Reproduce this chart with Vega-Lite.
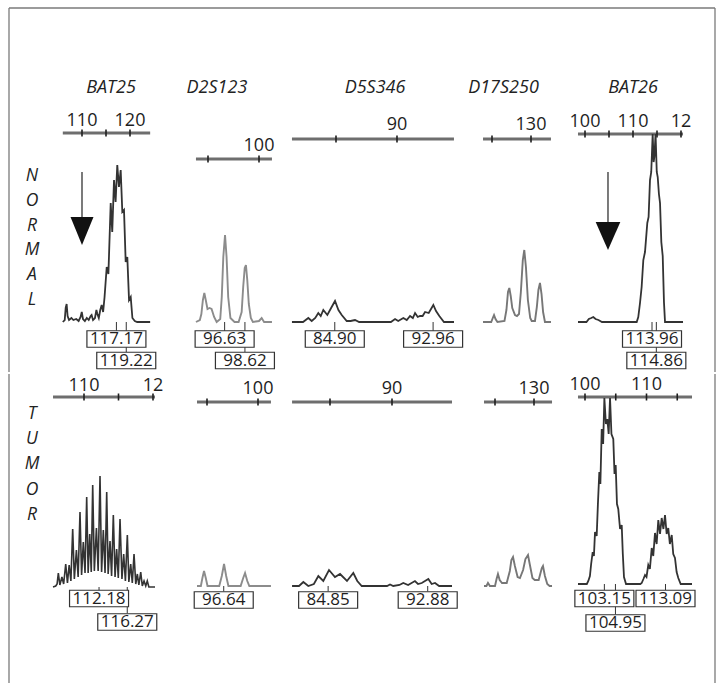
{
"$schema":"https://vega.github.io/schema/vega-lite/v6.json",
"background":"#ffffff",
"padding":{"left":8,"top":7,"right":0,"bottom":0},
"config":{"view":{"stroke":null},"axis":{"disable":true}},
"vconcat":[
{"hconcat":[
 {"width":41,"height":364,"layer":[
  {"data":{"values":[{}]},"mark":{"type":"rule","color":"#7a7a7a","strokeWidth":1.3},"encoding":{"x":{"datum":0,"scale":{"domain":[0,1]},"axis":null},"x2":{"datum":1},"y":{"datum":314,"scale":{"domain":[-50,314],"nice":false,"zero":false},"axis":null}}},
  {"data":{"values":[{}]},"mark":{"type":"rule","color":"#7a7a7a","strokeWidth":1.3},"encoding":{"x":{"datum":0,"scale":{"domain":[0,1]},"axis":null},"y":{"datum":314,"scale":{"domain":[-50,314],"nice":false,"zero":false},"axis":null},"y2":{"datum":-50}}},
  {"data":{"values":[{"sample":"Normal","label":"N\nO\nR\nM\nA\nL"}]},"mark":{"type":"text","font":"Open Sans","fontSize":17.5,"fontStyle":"italic","color":"#222222","align":"center","baseline":"middle","lineBreak":"\n","lineHeight":24.8},"encoding":{"x":{"datum":0.561,"scale":{"domain":[0,1]},"axis":null},"y":{"datum":146,"scale":{"domain":[-50,314],"nice":false,"zero":false},"axis":null},"text":{"field":"label"}}}
 ]},
 {"width":130,"height":364,"layer":[
  {"data":{"values":[{}]},"mark":{"type":"rule","color":"#7a7a7a","strokeWidth":1.3},"encoding":{"x":{"datum":103.333,"scale":{"domain":[103.333,130.417],"nice":false,"zero":false},"axis":null},"x2":{"datum":130.417},"y":{"datum":314,"scale":{"domain":[-50,314],"nice":false,"zero":false},"axis":null}}},
  {"data":{"values":[{"bp":106.0,"end":124.2}]},"mark":{"type":"rule","color":"#6e6e6e","strokeWidth":3},"encoding":{"x":{"field":"bp","type":"quantitative","scale":{"domain":[103.333,130.417],"nice":false,"zero":false},"axis":null},"x2":{"field":"end"},"y":{"datum":189,"scale":{"domain":[-50,314],"nice":false,"zero":false},"axis":null}}},
  {"data":{"values":[{"bp":110,"label":"110"},{"bp":115,"label":""},{"bp":120,"label":"120"}]},"layer":[
   {"mark":{"type":"rule","color":"#1e1e1e","strokeWidth":1.6},"encoding":{"x":{"field":"bp","type":"quantitative","scale":{"domain":[103.333,130.417],"nice":false,"zero":false},"axis":null},"y":{"datum":192.5,"scale":{"domain":[-50,314],"nice":false,"zero":false},"axis":null},"y2":{"datum":185.5}}},
   {"transform":[{"filter":"datum.label!=''"}],"mark":{"type":"text","font":"Open Sans","fontSize":18,"color":"#1e1e1e","align":"center","baseline":"middle"},"encoding":{"x":{"field":"bp","type":"quantitative","scale":{"domain":[103.333,130.417],"nice":false,"zero":false},"axis":null},"y":{"datum":201,"scale":{"domain":[-50,314],"nice":false,"zero":false},"axis":null},"text":{"field":"label"}}}
  ]},
  {"data":{"values":[{"marker":"BAT25"}]},"mark":{"type":"text","font":"Open Sans","fontSize":18,"fontStyle":"italic","color":"#222222","align":"center","baseline":"middle"},"encoding":{"x":{"datum":116.04,"scale":{"domain":[103.333,130.417],"nice":false,"zero":false},"axis":null},"y":{"datum":234,"scale":{"domain":[-50,314],"nice":false,"zero":false},"axis":null},"text":{"field":"marker"}}},
  {"data":{"values":[
{"bp":106.0,"signal":0},{"bp":106.4,"signal":2},{"bp":106.6,"signal":14},{"bp":106.8,"signal":18},{"bp":107.0,"signal":6},{"bp":107.3,"signal":2},{"bp":107.8,"signal":4},{"bp":108.2,"signal":2},{"bp":108.8,"signal":3},{"bp":109.3,"signal":1},{"bp":109.7,"signal":5},{"bp":109.95,"signal":10},{"bp":110.2,"signal":3},{"bp":110.6,"signal":1},{"bp":111.0,"signal":4},{"bp":111.4,"signal":2},{"bp":111.8,"signal":6},{"bp":112.0,"signal":7},{"bp":112.3,"signal":2},{"bp":112.7,"signal":4},{"bp":113.0,"signal":12},{"bp":113.2,"signal":8},{"bp":113.5,"signal":4},{"bp":113.8,"signal":12},{"bp":114.1,"signal":17},{"bp":114.4,"signal":10},{"bp":114.7,"signal":25},{"bp":115.15,"signal":55},{"bp":115.5,"signal":48},{"bp":115.98,"signal":119},{"bp":116.3,"signal":90},{"bp":116.67,"signal":142},{"bp":117.0,"signal":120},{"bp":117.35,"signal":157},{"bp":117.7,"signal":135},{"bp":118.06,"signal":152},{"bp":118.4,"signal":110},{"bp":118.75,"signal":112},{"bp":119.1,"signal":60},{"bp":119.44,"signal":65},{"bp":119.8,"signal":22},{"bp":120.15,"signal":25},{"bp":120.5,"signal":4},{"bp":121.0,"signal":1},{"bp":121.5,"signal":0},{"bp":124.2,"signal":0}]},
   "mark":{"type":"line","color":"#333333","strokeWidth":1.8},"encoding":{"x":{"field":"bp","type":"quantitative","scale":{"domain":[103.333,130.417],"nice":false,"zero":false},"axis":null},"y":{"field":"signal","type":"quantitative","scale":{"domain":[-50,314],"nice":false,"zero":false},"axis":null}}},
  {"data":{"values":[{"bp":110.0}]},"layer":[
   {"mark":{"type":"rule","color":"#222222","strokeWidth":1.2},"encoding":{"x":{"field":"bp","type":"quantitative","scale":{"domain":[103.333,130.417],"nice":false,"zero":false},"axis":null},"y":{"datum":150,"scale":{"domain":[-50,314],"nice":false,"zero":false},"axis":null},"y2":{"datum":105}}},
   {"mark":{"type":"point","shape":"M-0.82,-1L0.82,-1L0,1Z","size":784,"filled":true,"color":"#111111","opacity":1,"strokeWidth":0},"encoding":{"x":{"field":"bp","type":"quantitative","scale":{"domain":[103.333,130.417],"nice":false,"zero":false},"axis":null},"y":{"datum":91,"scale":{"domain":[-50,314],"nice":false,"zero":false},"axis":null}}}
  ]},
  {"data":{"values":[{"bp":117.17,"level":1},{"bp":119.22,"level":2}]},"layer":[
   {"transform":[{"filter":"datum.level==1"}],"mark":{"type":"rule","color":"#333333","strokeWidth":1},"encoding":{"x":{"field":"bp","type":"quantitative","scale":{"domain":[103.333,130.417],"nice":false,"zero":false},"axis":null},"y":{"datum":0,"scale":{"domain":[-50,314],"nice":false,"zero":false},"axis":null},"y2":{"datum":-9}}},
   {"transform":[{"filter":"datum.level==2"}],"mark":{"type":"rule","color":"#333333","strokeWidth":1},"encoding":{"x":{"field":"bp","type":"quantitative","scale":{"domain":[103.333,130.417],"nice":false,"zero":false},"axis":null},"y":{"datum":0,"scale":{"domain":[-50,314],"nice":false,"zero":false},"axis":null},"y2":{"datum":-30}}},
   {"transform":[{"filter":"datum.level==1"}],"mark":{"type":"point","shape":"M-1,-0.28H1V0.28H-1Z","size":3481,"filled":true,"fill":"#ffffff","stroke":"#333333","strokeWidth":1.2,"opacity":1},"encoding":{"x":{"field":"bp","type":"quantitative","scale":{"domain":[103.333,130.417],"nice":false,"zero":false},"axis":null},"y":{"datum":-17,"scale":{"domain":[-50,314],"nice":false,"zero":false},"axis":null}}},
   {"transform":[{"filter":"datum.level==1"}],"mark":{"type":"text","font":"Open Sans","fontSize":17,"color":"#1e1e1e","align":"center","baseline":"middle"},"encoding":{"x":{"field":"bp","type":"quantitative","scale":{"domain":[103.333,130.417],"nice":false,"zero":false},"axis":null},"y":{"datum":-17,"scale":{"domain":[-50,314],"nice":false,"zero":false},"axis":null},"text":{"field":"bp","type":"quantitative","format":".2f"}}},
   {"transform":[{"filter":"datum.level==2"}],"mark":{"type":"point","shape":"M-1,-0.28H1V0.28H-1Z","size":3481,"filled":true,"fill":"#ffffff","stroke":"#333333","strokeWidth":1.2,"opacity":1},"encoding":{"x":{"field":"bp","type":"quantitative","scale":{"domain":[103.333,130.417],"nice":false,"zero":false},"axis":null},"y":{"datum":-38.5,"scale":{"domain":[-50,314],"nice":false,"zero":false},"axis":null}}},
   {"transform":[{"filter":"datum.level==2"}],"mark":{"type":"text","font":"Open Sans","fontSize":17,"color":"#1e1e1e","align":"center","baseline":"middle"},"encoding":{"x":{"field":"bp","type":"quantitative","scale":{"domain":[103.333,130.417],"nice":false,"zero":false},"axis":null},"y":{"datum":-38.5,"scale":{"domain":[-50,314],"nice":false,"zero":false},"axis":null},"text":{"field":"bp","type":"quantitative","format":".2f"}}}
  ]}
 ]},
 {"width":105,"height":364,"layer":[
  {"data":{"values":[{}]},"mark":{"type":"rule","color":"#7a7a7a","strokeWidth":1.3},"encoding":{"x":{"datum":92.255,"scale":{"domain":[92.255,102.549],"nice":false,"zero":false},"axis":null},"x2":{"datum":102.549},"y":{"datum":314,"scale":{"domain":[-50,314],"nice":false,"zero":false},"axis":null}}},
  {"data":{"values":[{"bp":93.82,"end":101.27}]},"mark":{"type":"rule","color":"#6e6e6e","strokeWidth":3},"encoding":{"x":{"field":"bp","type":"quantitative","scale":{"domain":[92.255,102.549],"nice":false,"zero":false},"axis":null},"x2":{"field":"end"},"y":{"datum":163,"scale":{"domain":[-50,314],"nice":false,"zero":false},"axis":null}}},
  {"data":{"values":[{"bp":95,"label":""},{"bp":100,"label":"100"}]},"layer":[
   {"mark":{"type":"rule","color":"#1e1e1e","strokeWidth":1.6},"encoding":{"x":{"field":"bp","type":"quantitative","scale":{"domain":[92.255,102.549],"nice":false,"zero":false},"axis":null},"y":{"datum":166.5,"scale":{"domain":[-50,314],"nice":false,"zero":false},"axis":null},"y2":{"datum":159.5}}},
   {"transform":[{"filter":"datum.label!=''"}],"mark":{"type":"text","font":"Open Sans","fontSize":18,"color":"#1e1e1e","align":"center","baseline":"middle"},"encoding":{"x":{"field":"bp","type":"quantitative","scale":{"domain":[92.255,102.549],"nice":false,"zero":false},"axis":null},"y":{"datum":176.5,"scale":{"domain":[-50,314],"nice":false,"zero":false},"axis":null},"text":{"field":"label"}}}
  ]},
  {"data":{"values":[{"marker":"D2S123"}]},"mark":{"type":"text","font":"Open Sans","fontSize":18,"fontStyle":"italic","color":"#222222","align":"center","baseline":"middle"},"encoding":{"x":{"datum":95.88,"scale":{"domain":[92.255,102.549],"nice":false,"zero":false},"axis":null},"y":{"datum":234,"scale":{"domain":[-50,314],"nice":false,"zero":false},"axis":null},"text":{"field":"marker"}}},
  {"data":{"values":[
{"bp":93.82,"signal":0},{"bp":94.2,"signal":2},{"bp":94.35,"signal":8},{"bp":94.5,"signal":22},{"bp":94.64,"signal":29},{"bp":94.78,"signal":22},{"bp":94.95,"signal":13},{"bp":95.15,"signal":14},{"bp":95.35,"signal":13},{"bp":95.6,"signal":5},{"bp":95.85,"signal":0},{"bp":96.2,"signal":3},{"bp":96.35,"signal":25},{"bp":96.5,"signal":65},{"bp":96.67,"signal":87},{"bp":96.82,"signal":65},{"bp":96.98,"signal":25},{"bp":97.2,"signal":4},{"bp":97.6,"signal":0},{"bp":98.0,"signal":0},{"bp":98.3,"signal":10},{"bp":98.45,"signal":35},{"bp":98.6,"signal":54},{"bp":98.72,"signal":57},{"bp":98.85,"signal":42},{"bp":99.0,"signal":18},{"bp":99.2,"signal":4},{"bp":99.4,"signal":0},{"bp":100.0,"signal":1},{"bp":100.26,"signal":4},{"bp":100.5,"signal":0},{"bp":101.27,"signal":0}]},
   "mark":{"type":"line","color":"#8c8c8c","strokeWidth":1.9},"encoding":{"x":{"field":"bp","type":"quantitative","scale":{"domain":[92.255,102.549],"nice":false,"zero":false},"axis":null},"y":{"field":"signal","type":"quantitative","scale":{"domain":[-50,314],"nice":false,"zero":false},"axis":null}}},
  {"data":{"values":[{"bp":96.63,"level":1},{"bp":98.62,"level":2}]},"layer":[
   {"transform":[{"filter":"datum.level==1"}],"mark":{"type":"rule","color":"#333333","strokeWidth":1},"encoding":{"x":{"field":"bp","type":"quantitative","scale":{"domain":[92.255,102.549],"nice":false,"zero":false},"axis":null},"y":{"datum":0,"scale":{"domain":[-50,314],"nice":false,"zero":false},"axis":null},"y2":{"datum":-9}}},
   {"transform":[{"filter":"datum.level==2"}],"mark":{"type":"rule","color":"#333333","strokeWidth":1},"encoding":{"x":{"field":"bp","type":"quantitative","scale":{"domain":[92.255,102.549],"nice":false,"zero":false},"axis":null},"y":{"datum":0,"scale":{"domain":[-50,314],"nice":false,"zero":false},"axis":null},"y2":{"datum":-30}}},
   {"transform":[{"filter":"datum.level==1"}],"mark":{"type":"point","shape":"M-1,-0.28H1V0.28H-1Z","size":3481,"filled":true,"fill":"#ffffff","stroke":"#333333","strokeWidth":1.2,"opacity":1},"encoding":{"x":{"field":"bp","type":"quantitative","scale":{"domain":[92.255,102.549],"nice":false,"zero":false},"axis":null},"y":{"datum":-17,"scale":{"domain":[-50,314],"nice":false,"zero":false},"axis":null}}},
   {"transform":[{"filter":"datum.level==1"}],"mark":{"type":"text","font":"Open Sans","fontSize":17,"color":"#1e1e1e","align":"center","baseline":"middle"},"encoding":{"x":{"field":"bp","type":"quantitative","scale":{"domain":[92.255,102.549],"nice":false,"zero":false},"axis":null},"y":{"datum":-17,"scale":{"domain":[-50,314],"nice":false,"zero":false},"axis":null},"text":{"field":"bp","type":"quantitative","format":".2f"}}},
   {"transform":[{"filter":"datum.level==2"}],"mark":{"type":"point","shape":"M-1,-0.28H1V0.28H-1Z","size":3481,"filled":true,"fill":"#ffffff","stroke":"#333333","strokeWidth":1.2,"opacity":1},"encoding":{"x":{"field":"bp","type":"quantitative","scale":{"domain":[92.255,102.549],"nice":false,"zero":false},"axis":null},"y":{"datum":-38.5,"scale":{"domain":[-50,314],"nice":false,"zero":false},"axis":null}}},
   {"transform":[{"filter":"datum.level==2"}],"mark":{"type":"text","font":"Open Sans","fontSize":17,"color":"#1e1e1e","align":"center","baseline":"middle"},"encoding":{"x":{"field":"bp","type":"quantitative","scale":{"domain":[92.255,102.549],"nice":false,"zero":false},"axis":null},"y":{"datum":-38.5,"scale":{"domain":[-50,314],"nice":false,"zero":false},"axis":null},"text":{"field":"bp","type":"quantitative","format":".2f"}}}
  ]}
 ]},
 {"width":187,"height":364,"layer":[
  {"data":{"values":[{}]},"mark":{"type":"rule","color":"#7a7a7a","strokeWidth":1.3},"encoding":{"x":{"datum":80.82,"scale":{"domain":[80.82,96.148],"nice":false,"zero":false},"axis":null},"x2":{"datum":96.148},"y":{"datum":314,"scale":{"domain":[-50,314],"nice":false,"zero":false},"axis":null}}},
  {"data":{"values":[{"bp":81.39,"end":94.67}]},"mark":{"type":"rule","color":"#6e6e6e","strokeWidth":3},"encoding":{"x":{"field":"bp","type":"quantitative","scale":{"domain":[80.82,96.148],"nice":false,"zero":false},"axis":null},"x2":{"field":"end"},"y":{"datum":183,"scale":{"domain":[-50,314],"nice":false,"zero":false},"axis":null}}},
  {"data":{"values":[{"bp":85,"label":""},{"bp":90,"label":"90"}]},"layer":[
   {"mark":{"type":"rule","color":"#1e1e1e","strokeWidth":1.6},"encoding":{"x":{"field":"bp","type":"quantitative","scale":{"domain":[80.82,96.148],"nice":false,"zero":false},"axis":null},"y":{"datum":186.5,"scale":{"domain":[-50,314],"nice":false,"zero":false},"axis":null},"y2":{"datum":179.5}}},
   {"transform":[{"filter":"datum.label!=''"}],"mark":{"type":"text","font":"Open Sans","fontSize":18,"color":"#1e1e1e","align":"center","baseline":"middle"},"encoding":{"x":{"field":"bp","type":"quantitative","scale":{"domain":[80.82,96.148],"nice":false,"zero":false},"axis":null},"y":{"datum":197,"scale":{"domain":[-50,314],"nice":false,"zero":false},"axis":null},"text":{"field":"label"}}}
  ]},
  {"data":{"values":[{"marker":"D5S346"}]},"mark":{"type":"text","font":"Open Sans","fontSize":18,"fontStyle":"italic","color":"#222222","align":"center","baseline":"middle"},"encoding":{"x":{"datum":88.2,"scale":{"domain":[80.82,96.148],"nice":false,"zero":false},"axis":null},"y":{"datum":234,"scale":{"domain":[-50,314],"nice":false,"zero":false},"axis":null},"text":{"field":"marker"}}},
  {"data":{"values":[
{"bp":81.39,"signal":0},{"bp":82.3,"signal":0},{"bp":82.73,"signal":4},{"bp":83.01,"signal":1},{"bp":83.3,"signal":4},{"bp":83.55,"signal":9},{"bp":83.75,"signal":6},{"bp":83.96,"signal":12},{"bp":84.29,"signal":7},{"bp":84.6,"signal":14},{"bp":84.92,"signal":21},{"bp":85.2,"signal":12},{"bp":85.47,"signal":7},{"bp":85.88,"signal":1},{"bp":86.2,"signal":1},{"bp":86.56,"signal":2},{"bp":86.9,"signal":0},{"bp":89.5,"signal":0},{"bp":89.84,"signal":3},{"bp":90.1,"signal":1},{"bp":90.52,"signal":4},{"bp":90.8,"signal":2},{"bp":91.07,"signal":6},{"bp":91.3,"signal":4},{"bp":91.48,"signal":9},{"bp":91.7,"signal":5},{"bp":91.89,"signal":6},{"bp":92.1,"signal":6},{"bp":92.3,"signal":10},{"bp":92.6,"signal":9},{"bp":92.98,"signal":17},{"bp":93.2,"signal":11},{"bp":93.47,"signal":6},{"bp":93.85,"signal":0},{"bp":94.67,"signal":0}]},
   "mark":{"type":"line","color":"#333333","strokeWidth":1.8},"encoding":{"x":{"field":"bp","type":"quantitative","scale":{"domain":[80.82,96.148],"nice":false,"zero":false},"axis":null},"y":{"field":"signal","type":"quantitative","scale":{"domain":[-50,314],"nice":false,"zero":false},"axis":null}}},
  {"data":{"values":[{"bp":84.90,"level":1},{"bp":92.96,"level":1}]},"layer":[
   {"mark":{"type":"rule","color":"#333333","strokeWidth":1},"encoding":{"x":{"field":"bp","type":"quantitative","scale":{"domain":[80.82,96.148],"nice":false,"zero":false},"axis":null},"y":{"datum":0,"scale":{"domain":[-50,314],"nice":false,"zero":false},"axis":null},"y2":{"datum":-9}}},
   {"mark":{"type":"point","shape":"M-1,-0.28H1V0.28H-1Z","size":3481,"filled":true,"fill":"#ffffff","stroke":"#333333","strokeWidth":1.2,"opacity":1},"encoding":{"x":{"field":"bp","type":"quantitative","scale":{"domain":[80.82,96.148],"nice":false,"zero":false},"axis":null},"y":{"datum":-17,"scale":{"domain":[-50,314],"nice":false,"zero":false},"axis":null}}},
   {"mark":{"type":"text","font":"Open Sans","fontSize":17,"color":"#1e1e1e","align":"center","baseline":"middle"},"encoding":{"x":{"field":"bp","type":"quantitative","scale":{"domain":[80.82,96.148],"nice":false,"zero":false},"axis":null},"y":{"datum":-17,"scale":{"domain":[-50,314],"nice":false,"zero":false},"axis":null},"text":{"field":"bp","type":"quantitative","format":".2f"}}}
  ]}
 ]},
 {"width":94,"height":364,"layer":[
  {"data":{"values":[{}]},"mark":{"type":"rule","color":"#7a7a7a","strokeWidth":1.3},"encoding":{"x":{"datum":122.436,"scale":{"domain":[122.436,134.487],"nice":false,"zero":false},"axis":null},"x2":{"datum":134.487},"y":{"datum":314,"scale":{"domain":[-50,314],"nice":false,"zero":false},"axis":null}}},
  {"data":{"values":[{"bp":123.85,"end":132.56}]},"mark":{"type":"rule","color":"#6e6e6e","strokeWidth":3},"encoding":{"x":{"field":"bp","type":"quantitative","scale":{"domain":[122.436,134.487],"nice":false,"zero":false},"axis":null},"x2":{"field":"end"},"y":{"datum":183,"scale":{"domain":[-50,314],"nice":false,"zero":false},"axis":null}}},
  {"data":{"values":[{"bp":125,"label":""},{"bp":130,"label":"130"}]},"layer":[
   {"mark":{"type":"rule","color":"#1e1e1e","strokeWidth":1.6},"encoding":{"x":{"field":"bp","type":"quantitative","scale":{"domain":[122.436,134.487],"nice":false,"zero":false},"axis":null},"y":{"datum":186.5,"scale":{"domain":[-50,314],"nice":false,"zero":false},"axis":null},"y2":{"datum":179.5}}},
   {"transform":[{"filter":"datum.label!=''"}],"mark":{"type":"text","font":"Open Sans","fontSize":18,"color":"#1e1e1e","align":"center","baseline":"middle"},"encoding":{"x":{"field":"bp","type":"quantitative","scale":{"domain":[122.436,134.487],"nice":false,"zero":false},"axis":null},"y":{"datum":197,"scale":{"domain":[-50,314],"nice":false,"zero":false},"axis":null},"text":{"field":"label"}}}
  ]},
  {"data":{"values":[{"marker":"D17S250"}]},"mark":{"type":"text","font":"Open Sans","fontSize":18,"fontStyle":"italic","color":"#222222","align":"center","baseline":"middle"},"encoding":{"x":{"datum":126.47,"scale":{"domain":[122.436,134.487],"nice":false,"zero":false},"axis":null},"y":{"datum":234,"scale":{"domain":[-50,314],"nice":false,"zero":false},"axis":null},"text":{"field":"marker"}}},
  {"data":{"values":[
{"bp":123.85,"signal":0},{"bp":124.9,"signal":0},{"bp":125.1,"signal":4},{"bp":125.26,"signal":7},{"bp":125.45,"signal":3},{"bp":125.7,"signal":0},{"bp":126.6,"signal":1},{"bp":126.85,"signal":12},{"bp":127.05,"signal":30},{"bp":127.22,"signal":34},{"bp":127.4,"signal":26},{"bp":127.6,"signal":14},{"bp":127.95,"signal":7},{"bp":128.2,"signal":6},{"bp":128.46,"signal":8},{"bp":128.7,"signal":30},{"bp":128.95,"signal":62},{"bp":129.14,"signal":72},{"bp":129.35,"signal":55},{"bp":129.6,"signal":22},{"bp":129.9,"signal":4},{"bp":130.09,"signal":1},{"bp":130.51,"signal":1},{"bp":130.75,"signal":15},{"bp":130.95,"signal":32},{"bp":131.15,"signal":39},{"bp":131.35,"signal":28},{"bp":131.55,"signal":10},{"bp":131.79,"signal":0},{"bp":132.56,"signal":0}]},
   "mark":{"type":"line","color":"#777777","strokeWidth":1.9},"encoding":{"x":{"field":"bp","type":"quantitative","scale":{"domain":[122.436,134.487],"nice":false,"zero":false},"axis":null},"y":{"field":"signal","type":"quantitative","scale":{"domain":[-50,314],"nice":false,"zero":false},"axis":null}}}
 ]},
 {"width":149,"height":364,"layer":[
  {"data":{"values":[{}]},"mark":{"type":"rule","color":"#7a7a7a","strokeWidth":1.3},"encoding":{"x":{"datum":96.042,"scale":{"domain":[96.042,127.083],"nice":false,"zero":false},"axis":null},"x2":{"datum":127.083},"y":{"datum":314,"scale":{"domain":[-50,314],"nice":false,"zero":false},"axis":null}}},
  {"data":{"values":[{}]},"mark":{"type":"rule","color":"#7a7a7a","strokeWidth":1.3},"encoding":{"x":{"datum":127.083,"scale":{"domain":[96.042,127.083],"nice":false,"zero":false},"axis":null},"y":{"datum":314,"scale":{"domain":[-50,314],"nice":false,"zero":false},"axis":null},"y2":{"datum":-50}}},
  {"data":{"values":[{"bp":98.54,"end":120.42}]},"mark":{"type":"rule","color":"#6e6e6e","strokeWidth":3},"encoding":{"x":{"field":"bp","type":"quantitative","scale":{"domain":[96.042,127.083],"nice":false,"zero":false},"axis":null},"x2":{"field":"end"},"y":{"datum":188,"scale":{"domain":[-50,314],"nice":false,"zero":false},"axis":null}}},
  {"data":{"values":[{"bp":100,"label":"100"},{"bp":105,"label":""},{"bp":110,"label":"110"},{"bp":115,"label":""},{"bp":120,"label":"12"}]},"layer":[
   {"mark":{"type":"rule","color":"#1e1e1e","strokeWidth":1.6},"encoding":{"x":{"field":"bp","type":"quantitative","scale":{"domain":[96.042,127.083],"nice":false,"zero":false},"axis":null},"y":{"datum":191.5,"scale":{"domain":[-50,314],"nice":false,"zero":false},"axis":null},"y2":{"datum":184.5}}},
   {"transform":[{"filter":"datum.label!=''"}],"mark":{"type":"text","font":"Open Sans","fontSize":18,"color":"#1e1e1e","align":"center","baseline":"middle"},"encoding":{"x":{"field":"bp","type":"quantitative","scale":{"domain":[96.042,127.083],"nice":false,"zero":false},"axis":null},"y":{"datum":200.5,"scale":{"domain":[-50,314],"nice":false,"zero":false},"axis":null},"text":{"field":"label"}}}
  ]},
  {"data":{"values":[{"marker":"BAT26"}]},"mark":{"type":"text","font":"Open Sans","fontSize":18,"fontStyle":"italic","color":"#222222","align":"center","baseline":"middle"},"encoding":{"x":{"datum":110,"scale":{"domain":[96.042,127.083],"nice":false,"zero":false},"axis":null},"y":{"datum":234,"scale":{"domain":[-50,314],"nice":false,"zero":false},"axis":null},"text":{"field":"marker"}}},
  {"data":{"values":[
{"bp":98.54,"signal":0},{"bp":100.3,"signal":0},{"bp":100.8,"signal":3},{"bp":101.3,"signal":4},{"bp":101.73,"signal":5},{"bp":102.2,"signal":3},{"bp":102.8,"signal":2},{"bp":103.54,"signal":0},{"bp":110.77,"signal":0},{"bp":111.1,"signal":5},{"bp":111.46,"signal":19},{"bp":111.8,"signal":35},{"bp":112.15,"signal":62},{"bp":112.5,"signal":70},{"bp":112.98,"signal":99},{"bp":113.25,"signal":105},{"bp":113.54,"signal":142},{"bp":113.8,"signal":150},{"bp":114.1,"signal":188},{"bp":114.3,"signal":160},{"bp":114.45,"signal":165},{"bp":114.7,"signal":188},{"bp":114.95,"signal":150},{"bp":115.15,"signal":145},{"bp":115.4,"signal":128},{"bp":115.63,"signal":119},{"bp":115.9,"signal":80},{"bp":116.19,"signal":66},{"bp":116.45,"signal":20},{"bp":116.67,"signal":0},{"bp":120.42,"signal":0}]},
   "mark":{"type":"line","color":"#333333","strokeWidth":1.8},"encoding":{"x":{"field":"bp","type":"quantitative","scale":{"domain":[96.042,127.083],"nice":false,"zero":false},"axis":null},"y":{"field":"signal","type":"quantitative","scale":{"domain":[-50,314],"nice":false,"zero":false},"axis":null}}},
  {"data":{"values":[{"bp":104.79}]},"layer":[
   {"mark":{"type":"rule","color":"#222222","strokeWidth":1.2},"encoding":{"x":{"field":"bp","type":"quantitative","scale":{"domain":[96.042,127.083],"nice":false,"zero":false},"axis":null},"y":{"datum":150,"scale":{"domain":[-50,314],"nice":false,"zero":false},"axis":null},"y2":{"datum":100}}},
   {"mark":{"type":"point","shape":"M-0.88,-1L0.88,-1L0,1Z","size":784,"filled":true,"color":"#111111","opacity":1,"strokeWidth":0},"encoding":{"x":{"field":"bp","type":"quantitative","scale":{"domain":[96.042,127.083],"nice":false,"zero":false},"axis":null},"y":{"datum":86,"scale":{"domain":[-50,314],"nice":false,"zero":false},"axis":null}}}
  ]},
  {"data":{"values":[{"bp":113.96,"level":1},{"bp":114.86,"level":2}]},"layer":[
   {"transform":[{"filter":"datum.level==1"}],"mark":{"type":"rule","color":"#333333","strokeWidth":1},"encoding":{"x":{"field":"bp","type":"quantitative","scale":{"domain":[96.042,127.083],"nice":false,"zero":false},"axis":null},"y":{"datum":0,"scale":{"domain":[-50,314],"nice":false,"zero":false},"axis":null},"y2":{"datum":-9}}},
   {"transform":[{"filter":"datum.level==2"}],"mark":{"type":"rule","color":"#333333","strokeWidth":1},"encoding":{"x":{"field":"bp","type":"quantitative","scale":{"domain":[96.042,127.083],"nice":false,"zero":false},"axis":null},"y":{"datum":0,"scale":{"domain":[-50,314],"nice":false,"zero":false},"axis":null},"y2":{"datum":-30}}},
   {"transform":[{"filter":"datum.level==1"}],"mark":{"type":"point","shape":"M-1,-0.28H1V0.28H-1Z","size":3481,"filled":true,"fill":"#ffffff","stroke":"#333333","strokeWidth":1.2,"opacity":1},"encoding":{"x":{"field":"bp","type":"quantitative","scale":{"domain":[96.042,127.083],"nice":false,"zero":false},"axis":null},"y":{"datum":-17,"scale":{"domain":[-50,314],"nice":false,"zero":false},"axis":null}}},
   {"transform":[{"filter":"datum.level==1"}],"mark":{"type":"text","font":"Open Sans","fontSize":17,"color":"#1e1e1e","align":"center","baseline":"middle"},"encoding":{"x":{"field":"bp","type":"quantitative","scale":{"domain":[96.042,127.083],"nice":false,"zero":false},"axis":null},"y":{"datum":-17,"scale":{"domain":[-50,314],"nice":false,"zero":false},"axis":null},"text":{"field":"bp","type":"quantitative","format":".2f"}}},
   {"transform":[{"filter":"datum.level==2"}],"mark":{"type":"point","shape":"M-1,-0.28H1V0.28H-1Z","size":3481,"filled":true,"fill":"#ffffff","stroke":"#333333","strokeWidth":1.2,"opacity":1},"encoding":{"x":{"field":"bp","type":"quantitative","scale":{"domain":[96.042,127.083],"nice":false,"zero":false},"axis":null},"y":{"datum":-38.5,"scale":{"domain":[-50,314],"nice":false,"zero":false},"axis":null}}},
   {"transform":[{"filter":"datum.level==2"}],"mark":{"type":"text","font":"Open Sans","fontSize":17,"color":"#1e1e1e","align":"center","baseline":"middle"},"encoding":{"x":{"field":"bp","type":"quantitative","scale":{"domain":[96.042,127.083],"nice":false,"zero":false},"axis":null},"y":{"datum":-38.5,"scale":{"domain":[-50,314],"nice":false,"zero":false},"axis":null},"text":{"field":"bp","type":"quantitative","format":".2f"}}}
  ]}
 ]}
],"spacing":0,"bounds":"flush"},
{"hconcat":[
 {"width":41,"height":311,"layer":[
  {"data":{"values":[{}]},"mark":{"type":"rule","color":"#7a7a7a","strokeWidth":1.3},"encoding":{"x":{"datum":0,"scale":{"domain":[0,1]},"axis":null},"y":{"datum":212,"scale":{"domain":[-99,212],"nice":false,"zero":false},"axis":null},"y2":{"datum":-99}}},
  {"data":{"values":[{"sample":"Tumor","label":"T\nU\nM\nO\nR"}]},"mark":{"type":"text","font":"Open Sans","fontSize":17.5,"fontStyle":"italic","color":"#222222","align":"center","baseline":"middle","lineBreak":"\n","lineHeight":25.2},"encoding":{"x":{"datum":0.561,"scale":{"domain":[0,1]},"axis":null},"y":{"datum":172,"scale":{"domain":[-99,212],"nice":false,"zero":false},"axis":null},"text":{"field":"label"}}}
 ]},
 {"width":130,"height":311,"layer":[
  {"data":{"values":[{"bp":105.51,"end":120.29}]},"mark":{"type":"rule","color":"#6e6e6e","strokeWidth":3},"encoding":{"x":{"field":"bp","type":"quantitative","scale":{"domain":[105.072,123.913],"nice":false,"zero":false},"axis":null},"x2":{"field":"end"},"y":{"datum":190,"scale":{"domain":[-98,213],"nice":false,"zero":false},"axis":null}}},
  {"data":{"values":[{"bp":110,"label":"110"},{"bp":115,"label":""},{"bp":120,"label":"12"}]},"layer":[
   {"mark":{"type":"rule","color":"#1e1e1e","strokeWidth":1.6},"encoding":{"x":{"field":"bp","type":"quantitative","scale":{"domain":[105.072,123.913],"nice":false,"zero":false},"axis":null},"y":{"datum":193.5,"scale":{"domain":[-98,213],"nice":false,"zero":false},"axis":null},"y2":{"datum":186.5}}},
   {"transform":[{"filter":"datum.label!=''"}],"mark":{"type":"text","font":"Open Sans","fontSize":18,"color":"#1e1e1e","align":"center","baseline":"middle"},"encoding":{"x":{"field":"bp","type":"quantitative","scale":{"domain":[105.072,123.913],"nice":false,"zero":false},"axis":null},"y":{"datum":201,"scale":{"domain":[-98,213],"nice":false,"zero":false},"axis":null},"text":{"field":"label"}}}
  ]},
  {"data":{"values":[
{"bp":105.51,"signal":0},{"bp":105.9,"signal":1},{"bp":106.1,"signal":3},{"bp":106.28,"signal":14},{"bp":106.5,"signal":2},{"bp":106.8,"signal":10},{"bp":107.05,"signal":3},{"bp":107.35,"signal":23},{"bp":107.6,"signal":4},{"bp":107.85,"signal":22},{"bp":108.1,"signal":6},{"bp":108.36,"signal":58},{"bp":108.6,"signal":8},{"bp":108.9,"signal":37},{"bp":109.15,"signal":10},{"bp":109.42,"signal":75},{"bp":109.65,"signal":12},{"bp":109.9,"signal":45},{"bp":110.15,"signal":14},{"bp":110.39,"signal":90},{"bp":110.6,"signal":14},{"bp":110.83,"signal":53},{"bp":111.05,"signal":15},{"bp":111.26,"signal":102},{"bp":111.5,"signal":16},{"bp":111.8,"signal":59},{"bp":112.05,"signal":16},{"bp":112.32,"signal":111},{"bp":112.55,"signal":15},{"bp":112.8,"signal":57},{"bp":113.05,"signal":14},{"bp":113.29,"signal":95},{"bp":113.5,"signal":13},{"bp":113.77,"signal":46},{"bp":114.0,"signal":11},{"bp":114.25,"signal":72},{"bp":114.5,"signal":10},{"bp":114.73,"signal":38},{"bp":114.97,"signal":9},{"bp":115.22,"signal":68},{"bp":115.5,"signal":8},{"bp":115.75,"signal":33},{"bp":116.0,"signal":6},{"bp":116.28,"signal":52},{"bp":116.5,"signal":5},{"bp":116.77,"signal":23},{"bp":117.0,"signal":4},{"bp":117.25,"signal":33},{"bp":117.5,"signal":3},{"bp":117.73,"signal":13},{"bp":117.95,"signal":2},{"bp":118.22,"signal":15},{"bp":118.45,"signal":1},{"bp":118.7,"signal":6},{"bp":118.95,"signal":1},{"bp":119.17,"signal":6},{"bp":119.4,"signal":0},{"bp":120.29,"signal":0}]},
   "mark":{"type":"line","color":"#333333","strokeWidth":1.6},"encoding":{"x":{"field":"bp","type":"quantitative","scale":{"domain":[105.072,123.913],"nice":false,"zero":false},"axis":null},"y":{"field":"signal","type":"quantitative","scale":{"domain":[-98,213],"nice":false,"zero":false},"axis":null}}},
  {"data":{"values":[{"bp":112.18,"level":1},{"bp":116.27,"level":2}]},"layer":[
   {"transform":[{"filter":"datum.level==1"}],"mark":{"type":"rule","color":"#333333","strokeWidth":1},"encoding":{"x":{"field":"bp","type":"quantitative","scale":{"domain":[105.072,123.913],"nice":false,"zero":false},"axis":null},"y":{"datum":0,"scale":{"domain":[-98,213],"nice":false,"zero":false},"axis":null},"y2":{"datum":-3.5}}},
   {"transform":[{"filter":"datum.level==2"}],"mark":{"type":"rule","color":"#333333","strokeWidth":1},"encoding":{"x":{"field":"bp","type":"quantitative","scale":{"domain":[105.072,123.913],"nice":false,"zero":false},"axis":null},"y":{"datum":0,"scale":{"domain":[-98,213],"nice":false,"zero":false},"axis":null},"y2":{"datum":-26.5}}},
   {"transform":[{"filter":"datum.level==1"}],"mark":{"type":"point","shape":"M-1,-0.28H1V0.28H-1Z","size":3481,"filled":true,"fill":"#ffffff","stroke":"#333333","strokeWidth":1.2,"opacity":1},"encoding":{"x":{"field":"bp","type":"quantitative","scale":{"domain":[105.072,123.913],"nice":false,"zero":false},"axis":null},"y":{"datum":-11.5,"scale":{"domain":[-98,213],"nice":false,"zero":false},"axis":null}}},
   {"transform":[{"filter":"datum.level==1"}],"mark":{"type":"text","font":"Open Sans","fontSize":17,"color":"#1e1e1e","align":"center","baseline":"middle"},"encoding":{"x":{"field":"bp","type":"quantitative","scale":{"domain":[105.072,123.913],"nice":false,"zero":false},"axis":null},"y":{"datum":-11.5,"scale":{"domain":[-98,213],"nice":false,"zero":false},"axis":null},"text":{"field":"bp","type":"quantitative","format":".2f"}}},
   {"transform":[{"filter":"datum.level==2"}],"mark":{"type":"point","shape":"M-1,-0.28H1V0.28H-1Z","size":3481,"filled":true,"fill":"#ffffff","stroke":"#333333","strokeWidth":1.2,"opacity":1},"encoding":{"x":{"field":"bp","type":"quantitative","scale":{"domain":[105.072,123.913],"nice":false,"zero":false},"axis":null},"y":{"datum":-35,"scale":{"domain":[-98,213],"nice":false,"zero":false},"axis":null}}},
   {"transform":[{"filter":"datum.level==2"}],"mark":{"type":"text","font":"Open Sans","fontSize":17,"color":"#1e1e1e","align":"center","baseline":"middle"},"encoding":{"x":{"field":"bp","type":"quantitative","scale":{"domain":[105.072,123.913],"nice":false,"zero":false},"axis":null},"y":{"datum":-35,"scale":{"domain":[-98,213],"nice":false,"zero":false},"axis":null},"text":{"field":"bp","type":"quantitative","format":".2f"}}}
  ]}
 ]},
 {"width":105,"height":311,"layer":[
  {"data":{"values":[{"bp":94.02,"end":101.27}]},"mark":{"type":"rule","color":"#6e6e6e","strokeWidth":3},"encoding":{"x":{"field":"bp","type":"quantitative","scale":{"domain":[92.353,102.647],"nice":false,"zero":false},"axis":null},"x2":{"field":"end"},"y":{"datum":184,"scale":{"domain":[-99,212],"nice":false,"zero":false},"axis":null}}},
  {"data":{"values":[{"bp":95,"label":""},{"bp":100,"label":"100"}]},"layer":[
   {"mark":{"type":"rule","color":"#1e1e1e","strokeWidth":1.6},"encoding":{"x":{"field":"bp","type":"quantitative","scale":{"domain":[92.353,102.647],"nice":false,"zero":false},"axis":null},"y":{"datum":187.5,"scale":{"domain":[-99,212],"nice":false,"zero":false},"axis":null},"y2":{"datum":180.5}}},
   {"transform":[{"filter":"datum.label!=''"}],"mark":{"type":"text","font":"Open Sans","fontSize":18,"color":"#1e1e1e","align":"center","baseline":"middle"},"encoding":{"x":{"field":"bp","type":"quantitative","scale":{"domain":[92.353,102.647],"nice":false,"zero":false},"axis":null},"y":{"datum":197,"scale":{"domain":[-99,212],"nice":false,"zero":false},"axis":null},"text":{"field":"label"}}}
  ]},
  {"data":{"values":[
{"bp":94.02,"signal":0},{"bp":94.4,"signal":0},{"bp":94.55,"signal":8},{"bp":94.71,"signal":15},{"bp":94.88,"signal":8},{"bp":95.05,"signal":0},{"bp":96.2,"signal":0},{"bp":96.45,"signal":10},{"bp":96.67,"signal":22},{"bp":96.88,"signal":10},{"bp":97.1,"signal":0},{"bp":98.3,"signal":0},{"bp":98.55,"signal":8},{"bp":98.73,"signal":13},{"bp":98.95,"signal":5},{"bp":99.15,"signal":0},{"bp":101.27,"signal":0}]},
   "mark":{"type":"line","color":"#8c8c8c","strokeWidth":1.9},"encoding":{"x":{"field":"bp","type":"quantitative","scale":{"domain":[92.353,102.647],"nice":false,"zero":false},"axis":null},"y":{"field":"signal","type":"quantitative","scale":{"domain":[-99,212],"nice":false,"zero":false},"axis":null}}},
  {"data":{"values":[{"bp":96.64,"level":1}]},"layer":[
   {"mark":{"type":"rule","color":"#333333","strokeWidth":1},"encoding":{"x":{"field":"bp","type":"quantitative","scale":{"domain":[92.353,102.647],"nice":false,"zero":false},"axis":null},"y":{"datum":0,"scale":{"domain":[-99,212],"nice":false,"zero":false},"axis":null},"y2":{"datum":-5.5}}},
   {"mark":{"type":"point","shape":"M-1,-0.28H1V0.28H-1Z","size":3481,"filled":true,"fill":"#ffffff","stroke":"#333333","strokeWidth":1.2,"opacity":1},"encoding":{"x":{"field":"bp","type":"quantitative","scale":{"domain":[92.353,102.647],"nice":false,"zero":false},"axis":null},"y":{"datum":-14,"scale":{"domain":[-99,212],"nice":false,"zero":false},"axis":null}}},
   {"mark":{"type":"text","font":"Open Sans","fontSize":17,"color":"#1e1e1e","align":"center","baseline":"middle"},"encoding":{"x":{"field":"bp","type":"quantitative","scale":{"domain":[92.353,102.647],"nice":false,"zero":false},"axis":null},"y":{"datum":-14,"scale":{"domain":[-99,212],"nice":false,"zero":false},"axis":null},"text":{"field":"bp","type":"quantitative","format":".2f"}}}
  ]}
 ]},
 {"width":187,"height":311,"layer":[
  {"data":{"values":[{"bp":81.94,"end":94.84}]},"mark":{"type":"rule","color":"#6e6e6e","strokeWidth":3},"encoding":{"x":{"field":"bp","type":"quantitative","scale":{"domain":[81.371,96.452],"nice":false,"zero":false},"axis":null},"x2":{"field":"end"},"y":{"datum":184,"scale":{"domain":[-99,212],"nice":false,"zero":false},"axis":null}}},
  {"data":{"values":[{"bp":85,"label":""},{"bp":90,"label":"90"}]},"layer":[
   {"mark":{"type":"rule","color":"#1e1e1e","strokeWidth":1.6},"encoding":{"x":{"field":"bp","type":"quantitative","scale":{"domain":[81.371,96.452],"nice":false,"zero":false},"axis":null},"y":{"datum":187.5,"scale":{"domain":[-99,212],"nice":false,"zero":false},"axis":null},"y2":{"datum":180.5}}},
   {"transform":[{"filter":"datum.label!=''"}],"mark":{"type":"text","font":"Open Sans","fontSize":18,"color":"#1e1e1e","align":"center","baseline":"middle"},"encoding":{"x":{"field":"bp","type":"quantitative","scale":{"domain":[81.371,96.452],"nice":false,"zero":false},"axis":null},"y":{"datum":197,"scale":{"domain":[-99,212],"nice":false,"zero":false},"axis":null},"text":{"field":"label"}}}
  ]},
  {"data":{"values":[
{"bp":81.94,"signal":0},{"bp":82.5,"signal":0},{"bp":82.85,"signal":4},{"bp":83.25,"signal":0},{"bp":83.7,"signal":2},{"bp":84.06,"signal":10},{"bp":84.46,"signal":5},{"bp":84.92,"signal":16},{"bp":85.4,"signal":9},{"bp":85.81,"signal":12},{"bp":86.37,"signal":5},{"bp":86.88,"signal":13},{"bp":87.2,"signal":5},{"bp":87.56,"signal":0},{"bp":89.6,"signal":0},{"bp":89.84,"signal":1.5},{"bp":90.1,"signal":0},{"bp":90.6,"signal":1},{"bp":90.91,"signal":3},{"bp":91.3,"signal":1},{"bp":91.85,"signal":5},{"bp":92.1,"signal":2},{"bp":92.4,"signal":3},{"bp":92.93,"signal":7},{"bp":93.2,"signal":2},{"bp":93.47,"signal":3},{"bp":93.8,"signal":0},{"bp":94.84,"signal":0}]},
   "mark":{"type":"line","color":"#333333","strokeWidth":1.8},"encoding":{"x":{"field":"bp","type":"quantitative","scale":{"domain":[81.371,96.452],"nice":false,"zero":false},"axis":null},"y":{"field":"signal","type":"quantitative","scale":{"domain":[-99,212],"nice":false,"zero":false},"axis":null}}},
  {"data":{"values":[{"bp":84.85,"level":1},{"bp":92.88,"level":1}]},"layer":[
   {"mark":{"type":"rule","color":"#333333","strokeWidth":1},"encoding":{"x":{"field":"bp","type":"quantitative","scale":{"domain":[81.371,96.452],"nice":false,"zero":false},"axis":null},"y":{"datum":0,"scale":{"domain":[-99,212],"nice":false,"zero":false},"axis":null},"y2":{"datum":-5.5}}},
   {"mark":{"type":"point","shape":"M-1,-0.28H1V0.28H-1Z","size":3481,"filled":true,"fill":"#ffffff","stroke":"#333333","strokeWidth":1.2,"opacity":1},"encoding":{"x":{"field":"bp","type":"quantitative","scale":{"domain":[81.371,96.452],"nice":false,"zero":false},"axis":null},"y":{"datum":-14,"scale":{"domain":[-99,212],"nice":false,"zero":false},"axis":null}}},
   {"mark":{"type":"text","font":"Open Sans","fontSize":17,"color":"#1e1e1e","align":"center","baseline":"middle"},"encoding":{"x":{"field":"bp","type":"quantitative","scale":{"domain":[81.371,96.452],"nice":false,"zero":false},"axis":null},"y":{"datum":-14,"scale":{"domain":[-99,212],"nice":false,"zero":false},"axis":null},"text":{"field":"bp","type":"quantitative","format":".2f"}}}
  ]}
 ]},
 {"width":94,"height":311,"layer":[
  {"data":{"values":[{"bp":123.59,"end":132.31}]},"mark":{"type":"rule","color":"#6e6e6e","strokeWidth":3},"encoding":{"x":{"field":"bp","type":"quantitative","scale":{"domain":[122.051,134.102],"nice":false,"zero":false},"axis":null},"x2":{"field":"end"},"y":{"datum":184,"scale":{"domain":[-99,212],"nice":false,"zero":false},"axis":null}}},
  {"data":{"values":[{"bp":125,"label":""},{"bp":130,"label":"130"}]},"layer":[
   {"mark":{"type":"rule","color":"#1e1e1e","strokeWidth":1.6},"encoding":{"x":{"field":"bp","type":"quantitative","scale":{"domain":[122.051,134.102],"nice":false,"zero":false},"axis":null},"y":{"datum":187.5,"scale":{"domain":[-99,212],"nice":false,"zero":false},"axis":null},"y2":{"datum":180.5}}},
   {"transform":[{"filter":"datum.label!=''"}],"mark":{"type":"text","font":"Open Sans","fontSize":18,"color":"#1e1e1e","align":"center","baseline":"middle"},"encoding":{"x":{"field":"bp","type":"quantitative","scale":{"domain":[122.051,134.102],"nice":false,"zero":false},"axis":null},"y":{"datum":197,"scale":{"domain":[-99,212],"nice":false,"zero":false},"axis":null},"text":{"field":"label"}}}
  ]},
  {"data":{"values":[
{"bp":123.59,"signal":0},{"bp":123.9,"signal":0},{"bp":124.1,"signal":3},{"bp":124.35,"signal":0},{"bp":125.0,"signal":0},{"bp":125.2,"signal":7},{"bp":125.38,"signal":12},{"bp":125.6,"signal":6},{"bp":125.9,"signal":3},{"bp":126.5,"signal":3},{"bp":126.9,"signal":15},{"bp":127.1,"signal":26},{"bp":127.31,"signal":29},{"bp":127.55,"signal":20},{"bp":127.9,"signal":9},{"bp":128.2,"signal":8},{"bp":128.6,"signal":16},{"bp":128.9,"signal":27},{"bp":129.23,"signal":31},{"bp":129.45,"signal":22},{"bp":129.8,"signal":8},{"bp":130.1,"signal":6},{"bp":130.6,"signal":6},{"bp":130.8,"signal":12},{"bp":131.0,"signal":18},{"bp":131.15,"signal":20},{"bp":131.4,"signal":10},{"bp":131.7,"signal":2},{"bp":132.0,"signal":0},{"bp":132.31,"signal":0}]},
   "mark":{"type":"line","color":"#777777","strokeWidth":1.9},"encoding":{"x":{"field":"bp","type":"quantitative","scale":{"domain":[122.051,134.102],"nice":false,"zero":false},"axis":null},"y":{"field":"signal","type":"quantitative","scale":{"domain":[-99,212],"nice":false,"zero":false},"axis":null}}}
 ]},
 {"width":149,"height":311,"layer":[
  {"data":{"values":[{}]},"mark":{"type":"rule","color":"#7a7a7a","strokeWidth":1.3},"encoding":{"x":{"datum":121.139,"scale":{"domain":[96.911,121.139],"nice":false,"zero":false},"axis":null},"y":{"datum":210,"scale":{"domain":[-101,210],"nice":false,"zero":false},"axis":null},"y2":{"datum":-101}}},
  {"data":{"values":[{"bp":98.86,"end":117.4}]},"mark":{"type":"rule","color":"#6e6e6e","strokeWidth":3},"encoding":{"x":{"field":"bp","type":"quantitative","scale":{"domain":[96.911,121.139],"nice":false,"zero":false},"axis":null},"x2":{"field":"end"},"y":{"datum":187,"scale":{"domain":[-101,210],"nice":false,"zero":false},"axis":null}}},
  {"data":{"values":[{"bp":100,"label":"100"},{"bp":105,"label":""},{"bp":110,"label":"110"},{"bp":115,"label":""}]},"layer":[
   {"mark":{"type":"rule","color":"#1e1e1e","strokeWidth":1.6},"encoding":{"x":{"field":"bp","type":"quantitative","scale":{"domain":[96.911,121.139],"nice":false,"zero":false},"axis":null},"y":{"datum":190.5,"scale":{"domain":[-101,210],"nice":false,"zero":false},"axis":null},"y2":{"datum":183.5}}},
   {"transform":[{"filter":"datum.label!=''"}],"mark":{"type":"text","font":"Open Sans","fontSize":18,"color":"#1e1e1e","align":"center","baseline":"middle"},"encoding":{"x":{"field":"bp","type":"quantitative","scale":{"domain":[96.911,121.139],"nice":false,"zero":false},"axis":null},"y":{"datum":198.7,"scale":{"domain":[-101,210],"nice":false,"zero":false},"axis":null},"text":{"field":"label"}}}
  ]},
  {"data":{"values":[
{"bp":98.86,"signal":0},{"bp":100.3,"signal":0},{"bp":100.54,"signal":3},{"bp":100.8,"signal":8},{"bp":101.0,"signal":20},{"bp":101.25,"signal":32},{"bp":101.45,"signal":28},{"bp":101.63,"signal":52},{"bp":101.9,"signal":48},{"bp":102.1,"signal":80},{"bp":102.33,"signal":112},{"bp":102.5,"signal":100},{"bp":102.72,"signal":155},{"bp":102.95,"signal":140},{"bp":103.15,"signal":186},{"bp":103.4,"signal":160},{"bp":103.63,"signal":165},{"bp":103.85,"signal":150},{"bp":104.07,"signal":186},{"bp":104.3,"signal":150},{"bp":104.6,"signal":145},{"bp":104.8,"signal":110},{"bp":104.99,"signal":119},{"bp":105.2,"signal":80},{"bp":105.41,"signal":75},{"bp":105.7,"signal":55},{"bp":105.97,"signal":59},{"bp":106.15,"signal":30},{"bp":106.34,"signal":7},{"bp":106.67,"signal":0},{"bp":109.0,"signal":0},{"bp":109.22,"signal":1},{"bp":109.5,"signal":5},{"bp":109.76,"signal":9},{"bp":110.0,"signal":7},{"bp":110.29,"signal":19},{"bp":110.55,"signal":15},{"bp":110.85,"signal":36},{"bp":111.1,"signal":28},{"bp":111.38,"signal":51},{"bp":111.65,"signal":40},{"bp":111.92,"signal":64},{"bp":112.2,"signal":50},{"bp":112.47,"signal":66},{"bp":112.75,"signal":55},{"bp":113.01,"signal":69},{"bp":113.28,"signal":50},{"bp":113.54,"signal":56},{"bp":113.8,"signal":40},{"bp":114.1,"signal":49},{"bp":114.35,"signal":30},{"bp":114.63,"signal":26},{"bp":114.9,"signal":12},{"bp":115.17,"signal":6},{"bp":115.56,"signal":0},{"bp":117.4,"signal":0}]},
   "mark":{"type":"line","color":"#333333","strokeWidth":1.8},"encoding":{"x":{"field":"bp","type":"quantitative","scale":{"domain":[96.911,121.139],"nice":false,"zero":false},"axis":null},"y":{"field":"signal","type":"quantitative","scale":{"domain":[-101,210],"nice":false,"zero":false},"axis":null}}},
  {"data":{"values":[{"bp":103.15,"level":1},{"bp":113.09,"level":1},{"bp":104.95,"level":2}]},"layer":[
   {"transform":[{"filter":"datum.level==1"}],"mark":{"type":"rule","color":"#333333","strokeWidth":1},"encoding":{"x":{"field":"bp","type":"quantitative","scale":{"domain":[96.911,121.139],"nice":false,"zero":false},"axis":null},"y":{"datum":0,"scale":{"domain":[-101,210],"nice":false,"zero":false},"axis":null},"y2":{"datum":-6}}},
   {"transform":[{"filter":"datum.level==2"}],"mark":{"type":"rule","color":"#333333","strokeWidth":1},"encoding":{"x":{"field":"bp","type":"quantitative","scale":{"domain":[96.911,121.139],"nice":false,"zero":false},"axis":null},"y":{"datum":0,"scale":{"domain":[-101,210],"nice":false,"zero":false},"axis":null},"y2":{"datum":-30.5}}},
   {"transform":[{"filter":"datum.level==1"}],"mark":{"type":"point","shape":"M-1,-0.28H1V0.28H-1Z","size":3481,"filled":true,"fill":"#ffffff","stroke":"#333333","strokeWidth":1.2,"opacity":1},"encoding":{"x":{"field":"bp","type":"quantitative","scale":{"domain":[96.911,121.139],"nice":false,"zero":false},"axis":null},"y":{"datum":-14.5,"scale":{"domain":[-101,210],"nice":false,"zero":false},"axis":null}}},
   {"transform":[{"filter":"datum.level==1"}],"mark":{"type":"text","font":"Open Sans","fontSize":17,"color":"#1e1e1e","align":"center","baseline":"middle"},"encoding":{"x":{"field":"bp","type":"quantitative","scale":{"domain":[96.911,121.139],"nice":false,"zero":false},"axis":null},"y":{"datum":-14.5,"scale":{"domain":[-101,210],"nice":false,"zero":false},"axis":null},"text":{"field":"bp","type":"quantitative","format":".2f"}}},
   {"transform":[{"filter":"datum.level==2"}],"mark":{"type":"point","shape":"M-1,-0.28H1V0.28H-1Z","size":3481,"filled":true,"fill":"#ffffff","stroke":"#333333","strokeWidth":1.2,"opacity":1},"encoding":{"x":{"field":"bp","type":"quantitative","scale":{"domain":[96.911,121.139],"nice":false,"zero":false},"axis":null},"y":{"datum":-39,"scale":{"domain":[-101,210],"nice":false,"zero":false},"axis":null}}},
   {"transform":[{"filter":"datum.level==2"}],"mark":{"type":"text","font":"Open Sans","fontSize":17,"color":"#1e1e1e","align":"center","baseline":"middle"},"encoding":{"x":{"field":"bp","type":"quantitative","scale":{"domain":[96.911,121.139],"nice":false,"zero":false},"axis":null},"y":{"datum":-39,"scale":{"domain":[-101,210],"nice":false,"zero":false},"axis":null},"text":{"field":"bp","type":"quantitative","format":".2f"}}}
  ]}
 ]}
],"spacing":0,"bounds":"flush"}
],
"spacing":0
}
